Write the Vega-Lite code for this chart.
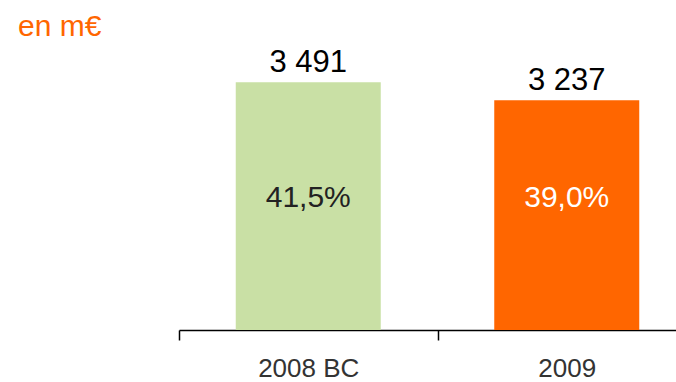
{
  "$schema": "https://vega.github.io/schema/vega-lite/v6.json",
  "autosize": "none",
  "width": 517,
  "height": 284,
  "padding": {"left": 179, "top": 46, "right": 0, "bottom": 52},
  "background": "white",
  "config": {"view": {"stroke": null}, "font": "Liberation Sans"},
  "title": {
    "text": "en m€",
    "anchor": "start",
    "frame": "group",
    "dx": -161,
    "offset": -20,
    "baseline": "alphabetic",
    "fontSize": 30,
    "fontWeight": "normal",
    "color": "#ff6600",
    "font": "Liberation Sans"
  },
  "data": {
    "values": [
      {"year": "2008 BC", "value": 3491, "label": "3 491", "pct": "41,5%"},
      {"year": "2009", "value": 3237, "label": "3 237", "pct": "39,0%"}
    ]
  },
  "encoding": {
    "x": {
      "field": "year",
      "type": "nominal",
      "sort": null,
      "scale": {"paddingInner": 0, "paddingOuter": 0},
      "axis": {
        "title": null,
        "labelAngle": 0,
        "labelFontSize": 26,
        "labelColor": "#333333",
        "labelFont": "Liberation Sans",
        "labelPadding": 15,
        "tickBand": "extent",
        "tickSize": 10,
        "tickColor": "#000000",
        "tickWidth": 1.5,
        "domainColor": "#000000",
        "domainWidth": 1.5,
        "grid": false
      }
    }
  },
  "layer": [
    {
      "mark": {"type": "bar", "width": 145},
      "encoding": {
        "y": {"field": "value", "type": "quantitative", "scale": {"domain": [0, 4000]}, "axis": null},
        "color": {
          "field": "year",
          "type": "nominal",
          "scale": {"domain": ["2008 BC", "2009"], "range": ["#c9e0a5", "#ff6600"]},
          "legend": null
        }
      }
    },
    {
      "mark": {"type": "text", "baseline": "alphabetic", "dy": -10, "fontSize": 31, "color": "#000000", "font": "Liberation Sans"},
      "encoding": {
        "y": {"field": "value", "type": "quantitative"},
        "text": {"field": "label"}
      }
    },
    {
      "mark": {"type": "text", "baseline": "alphabetic", "fontSize": 30, "font": "Liberation Sans"},
      "encoding": {
        "y": {"datum": 1730, "type": "quantitative"},
        "text": {"field": "pct"},
        "color": {"condition": {"test": "datum.year == '2009'", "value": "#ffffff"}, "value": "#222222"}
      }
    }
  ]
}
